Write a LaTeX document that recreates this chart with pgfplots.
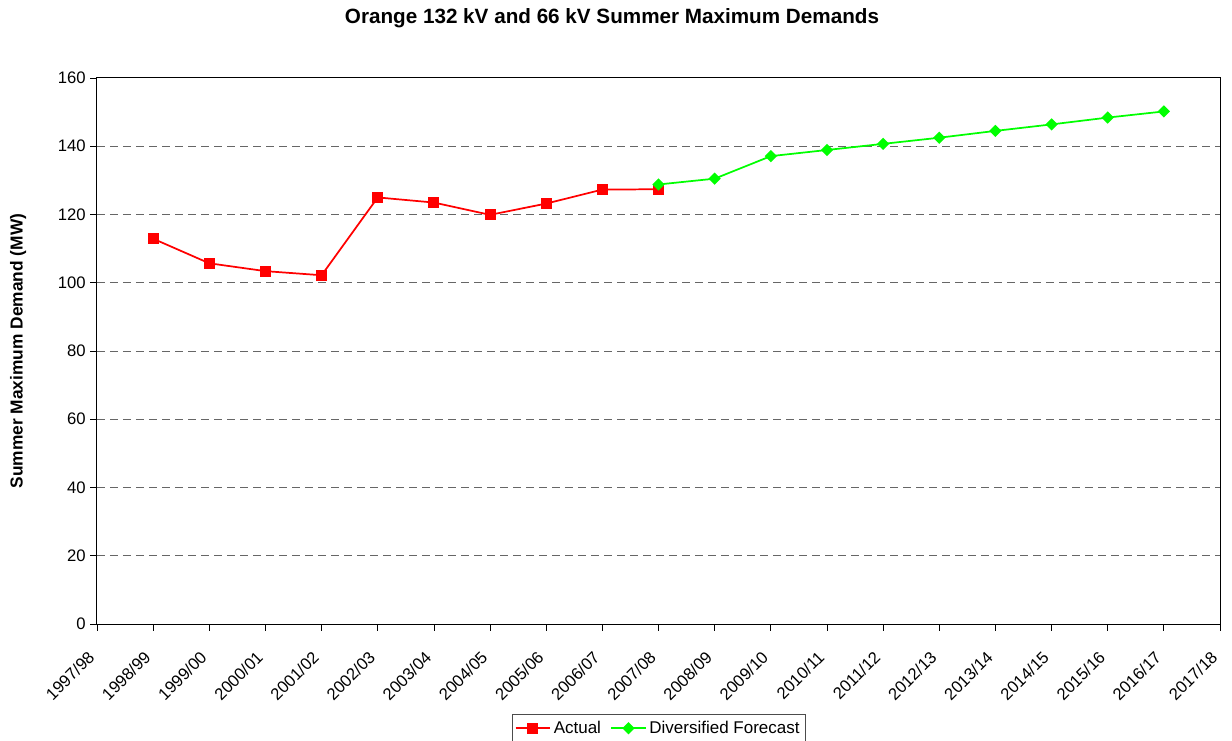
\documentclass[border=0pt]{standalone}
\usepackage{fontspec}
\setmainfont{Liberation Sans}
\usepackage{pgfplots}
\pgfplotsset{compat=1.18}
\begin{document}
\begin{tikzpicture}
\path[use as bounding box] (0pt,0pt) rectangle (924pt,555pt);
\node[font=\bfseries\fontsize{15.5}{18}\selectfont] at (459pt,541.5pt) {Orange 132 kV and 66 kV Summer Maximum Demands};
\begin{axis}[
  at={(72.75pt,87pt)}, anchor=south west,
  scale only axis, width=842.25pt, height=409.5pt,
  xmin=0, xmax=20, ymin=0, ymax=160,
  xtick={0,...,20},
  xticklabels={1997/98,1998/99,1999/00,2000/01,2001/02,2002/03,2003/04,2004/05,2005/06,2006/07,2007/08,2008/09,2009/10,2010/11,2011/12,2012/13,2013/14,2014/15,2015/16,2016/17,2017/18},
  ytick={0,20,...,160},
  xtick pos=lower, ytick pos=left,
  extra y ticks={20,40,...,140},
  extra y tick labels={},
  extra y tick style={grid=major, major tick length=0pt},
  major grid style={dash pattern=on 6pt off 3.75pt, black!60, line width=0.7pt},
  tick align=outside, major tick length=5pt,
  tick style={black, line width=0.6pt},
  axis line style={line width=0.75pt},
  xticklabel style={xshift=-3.5pt, yshift=-17pt, rotate=45, anchor=east, font=\fontsize{12.5}{14}\selectfont, inner sep=1pt},
  yticklabel style={font=\fontsize{12.5}{14}\selectfont},
  /pgf/number format/assume math mode=true,
  ylabel={\bfseries Summer Maximum Demand (MW)},
  ylabel style={at={(axis description cs:-0.0703,0.5)}, anchor=center, font=\fontsize{13}{15}\selectfont},
  legend columns=2,
  legend image code/.code={\draw[mark repeat=2, mark phase=2] plot coordinates {(0pt,0pt) (13pt,0pt) (26pt,0pt)};},
  legend style={at={(axis description cs:0.5,-0.1648)}, anchor=north, draw=black!70, line width=0.6pt,
    font=\fontsize{12.75}{15}\selectfont, inner xsep=2pt, inner ysep=3pt,
    /tikz/every even column/.append style={column sep=5pt}},
]
\addplot[red, line width=1.3pt, mark=square*, mark size=3.5pt, mark options={solid}]
  coordinates {(1,112.9) (2,105.7) (3,103.4) (4,102.2) (5,125.0) (6,123.5) (7,119.9) (8,123.2) (9,127.3) (10,127.4)};
\addlegendentry{Actual}
\addplot[green, line width=1.3pt, mark=square*, mark size=2.6pt, mark options={solid, rotate=45}]
  coordinates {(10,128.8) (11,130.5) (12,137.1) (13,138.9) (14,140.7) (15,142.5) (16,144.5) (17,146.4) (18,148.4) (19,150.2)};
\addlegendentry{Diversified Forecast}
\end{axis}
\end{tikzpicture}
\end{document}
